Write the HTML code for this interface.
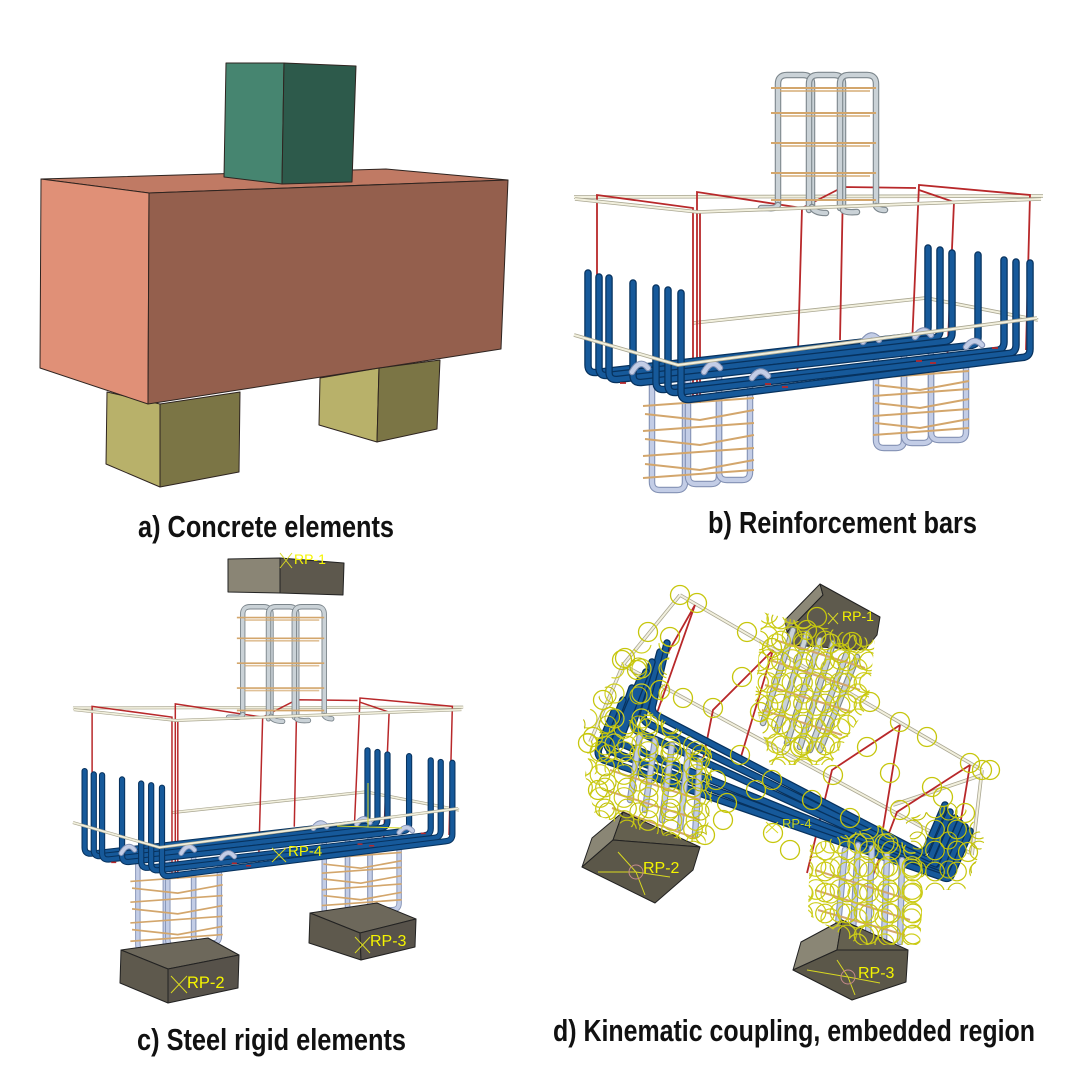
<!DOCTYPE html>
<html><head><meta charset="utf-8">
<style>
html,body{margin:0;padding:0;background:#fff;}
svg{display:block;}
.cap{font-family:"Liberation Sans Narrow","Liberation Sans",sans-serif;font-weight:bold;font-size:31px;fill:#111;}
.rp{font-family:"Liberation Sans",sans-serif;fill:#f4f400;}
.bo{fill:none;stroke:#07325e;stroke-width:7.5;stroke-linecap:round}
.bi{fill:none;stroke:#16599a;stroke-width:5;stroke-linecap:round}
.go{fill:none;stroke:#7c868c;stroke-width:6.5;stroke-linecap:round}
.gi{fill:none;stroke:#cad2d7;stroke-width:4.3;stroke-linecap:round}
.lo{fill:none;stroke:#8391b4;stroke-width:6.5;stroke-linecap:round}
.li{fill:none;stroke:#c3cde6;stroke-width:4.3;stroke-linecap:round}
.tie{fill:none;stroke:#d3a66c;stroke-width:2}
.red{fill:none;stroke:#b8282a;stroke-width:1.8}
.bgo{fill:none;stroke:#aaa792;stroke-width:3.6}
.bgi{fill:none;stroke:#f2f0de;stroke-width:2}
.yc{fill:none;stroke:#c6c60c;stroke-width:1.3}
.yl{fill:none;stroke:#d8d820;stroke-width:1}
</style></head><body>
<svg width="1080" height="1080" viewBox="0 0 1080 1080" xmlns="http://www.w3.org/2000/svg">
<defs>
 <pattern id="pA" width="22" height="21" patternUnits="userSpaceOnUse">
  <circle cx="11" cy="10.5" r="9.3" fill="none" stroke="#c6c60c" stroke-width="1.2"/>
 </pattern>
 <pattern id="pB" width="27" height="25" patternUnits="userSpaceOnUse" patternTransform="translate(7,6)">
  <circle cx="13.5" cy="12.5" r="9.5" fill="none" stroke="#d0d020" stroke-width="1.2"/>
 </pattern>
 <pattern id="pC" width="31" height="29" patternUnits="userSpaceOnUse" patternTransform="translate(3,14)">
  <circle cx="15.5" cy="14.5" r="8.5" fill="none" stroke="#bdbd08" stroke-width="1.1"/>
 </pattern>
 <pattern id="pD" width="24" height="23" patternUnits="userSpaceOnUse" patternTransform="translate(12,4)">
  <circle cx="12" cy="11.5" r="9.8" fill="none" stroke="#cccc14" stroke-width="1.2"/>
 </pattern>

 <g id="rebar">
  <path class="bgo" d="M574,197 L1043,196"/><path class="bgi" d="M574,197 L1043,196"/>
  <path class="bgo" d="M693,323 L926,298 L1038,320"/><path class="bgi" d="M693,323 L926,298 L1038,320"/>
  <path class="red" d="M597,275 V195 L693,208 V403"/>
  <path class="red" d="M697,403 V192 L802,208 L797,388"/>
  <path class="red" d="M700,403 V212"/>
  <path class="red" d="M840,340 L843,187 L916,188"/>
  <path class="red" d="M912,345 L919,185 L1030,195 L1026,350"/>
  <path class="red" d="M947,365 L954,202 L919,190"/>
  <path class="red" d="M843,187 L802,208"/>
  <g>
   <path class="go" d="M778,205 V84 Q778,75 787,75 H803 Q812,75 812,84 V207"/>
   <path class="gi" d="M778,205 V84 Q778,75 787,75 H803 Q812,75 812,84 V207"/>
   <path class="go" d="M809,210 V84 Q809,75 818,75 H834 Q843,75 843,84 V210"/>
   <path class="gi" d="M809,210 V84 Q809,75 818,75 H834 Q843,75 843,84 V210"/>
   <path class="go" d="M840,208 V84 Q840,75 849,75 H867 Q876,75 876,84 V206"/>
   <path class="gi" d="M840,208 V84 Q840,75 849,75 H867 Q876,75 876,84 V206"/>
   <path class="go" d="M778,205 Q776,209 768,208 H761 M812,207 Q814,213 826,213 M843,210 Q845,213 857,212 M876,206 Q878,210 885,210"/>
   <path class="gi" d="M778,205 Q776,209 768,208 H761 M812,207 Q814,213 826,213 M843,210 Q845,213 857,212 M876,206 Q878,210 885,210"/>
   <path class="tie" d="M771,88 H876 M771,113 H876 M771,143 H876 M771,173 H876 M771,200 H876"/>
   <path class="tie" d="M780,91 H870 M780,116 H870 M780,146 H870 M780,176 H870" stroke-width="1.2" opacity="0.7"/>
  </g>
  <g>
   <path class="lo" d="M652,375 V482 Q652,490 660,490 H677 Q685,490 685,482 V375"/>
   <path class="li" d="M652,375 V482 Q652,490 660,490 H677 Q685,490 685,482 V375"/>
   <path class="lo" d="M688,375 V476 Q688,484 696,484 H711 Q719,484 719,476 V375"/>
   <path class="li" d="M688,375 V476 Q688,484 696,484 H711 Q719,484 719,476 V375"/>
   <path class="lo" d="M719,375 V472 Q719,480 727,480 H742 Q750,480 750,472 V380"/>
   <path class="li" d="M719,375 V472 Q719,480 727,480 H742 Q750,480 750,472 V380"/>
   <path class="tie" d="M643,406 L754,398 M645,414 L700,420 L754,410 M643,431 L754,423 M645,439 L700,445 L754,435 M643,456 L754,448 M645,464 L700,470 L754,460 M643,478 L754,470"/>
  </g>
  <g>
   <path class="lo" d="M876,355 V440 Q876,448 884,448 H896 Q904,448 904,440 V355"/>
   <path class="li" d="M876,355 V440 Q876,448 884,448 H896 Q904,448 904,440 V355"/>
   <path class="lo" d="M904,355 V435 Q904,443 912,443 H923 Q931,443 931,435 V355"/>
   <path class="li" d="M904,355 V435 Q904,443 912,443 H923 Q931,443 931,435 V355"/>
   <path class="lo" d="M931,355 V432 Q931,440 939,440 H958 Q966,440 966,432 V355"/>
   <path class="li" d="M931,355 V432 Q931,440 939,440 H958 Q966,440 966,432 V355"/>
   <path class="tie" d="M873,378 L969,371 M875,385 L920,390 L969,381 M873,396 L969,389 M875,403 L920,408 L969,399 M873,416 L969,409 M875,423 L920,428 L969,419 M873,435 L969,428"/>
  </g>
  <g>
   <path class="bo" d="M588,273 V365 Q588,373 596,372.5 L920,335.5 Q928,335 928,327 V248"/><path class="bi" d="M588,273 V365 Q588,373 596,372.5 L920,335.5 Q928,335 928,327 V248"/>
   <path class="bo" d="M599,277 V368 Q599,376 607,375.5 L932,338.5 Q940,338 940,330 V250"/><path class="bi" d="M599,277 V368 Q599,376 607,375.5 L932,338.5 Q940,338 940,330 V250"/>
   <path class="bo" d="M609,278 V372 Q609,380 617,379.5 L944,341.5 Q952,341 952,333 V253"/><path class="bi" d="M609,278 V372 Q609,380 617,379.5 L944,341.5 Q952,341 952,333 V253"/>
   <path class="bo" d="M633,283 V375 Q633,383 641,382.5 L970,345.5 Q978,345 978,337 V255"/><path class="bi" d="M633,283 V375 Q633,383 641,382.5 L970,345.5 Q978,345 978,337 V255"/>
   <path class="bo" d="M656,288 V382 Q656,390 664,389.5 L996,350.5 Q1004,350 1004,342 V260"/><path class="bi" d="M656,288 V382 Q656,390 664,389.5 L996,350.5 Q1004,350 1004,342 V260"/>
   <path class="bo" d="M668,290 V385 Q668,393 676,392.5 L1008,353.5 Q1016,353 1016,345 V262"/><path class="bi" d="M668,290 V385 Q668,393 676,392.5 L1008,353.5 Q1016,353 1016,345 V262"/>
   <path class="bo" d="M681,293 V392 Q681,400 689,399.5 L1022,357.5 Q1030,357 1030,349 V263"/><path class="bi" d="M681,293 V392 Q681,400 689,399.5 L1022,357.5 Q1030,357 1030,349 V263"/>
  </g>
  <path class="lo" d="M632,372 Q640,358 648,368 M704,372 Q712,358 720,368 M752,378 Q760,366 768,376 M863,342 Q871,330 879,340 M915,337 Q923,325 931,335 M966,347 Q974,336 982,345"/>
  <path class="li" d="M632,372 Q640,358 648,368 M704,372 Q712,358 720,368 M752,378 Q760,366 768,376 M863,342 Q871,330 879,340 M915,337 Q923,325 931,335 M966,347 Q974,336 982,345"/>
  <path class="red" stroke-width="2.2" d="M620,383 h6 M765,384 h6 M782,387 h6 M916,361 h6 M930,363 h6 M992,348 h6"/>
  <path class="bgo" d="M575,199 L698,212 L1041,199"/><path class="bgi" d="M575,199 L698,212 L1041,199"/>
  <path class="bgo" d="M574,335 L678,365 L1037,318"/><path class="bgi" d="M574,335 L678,365 L1037,318"/>
 </g>
</defs>

<rect width="1080" height="1080" fill="#fff"/>

<!-- Panel a -->
<g stroke="#2e2420" stroke-width="1" stroke-linejoin="round">
 <polygon points="107,392 160,404 160,487 106,464" fill="#b8b16a"/>
 <polygon points="160,404 240,392 239,472 160,487" fill="#7b7545"/>
 <polygon points="320,378 379,368 377,442 319,425" fill="#b8b16a"/>
 <polygon points="379,368 440,360 437,429 377,442" fill="#7b7545"/>
 <polygon points="41,179 386,169 508,180 149,193" fill="#c07a64"/>
 <polygon points="41,179 149,193 148,404 40,368" fill="#e09077"/>
 <polygon points="149,193 508,180 501,349 148,404" fill="#945f4d"/>
 <polygon points="226,63 284,63 282,184 224,177" fill="#468570"/>
 <polygon points="284,63 356,66 352,182 282,184" fill="#2d5a4b"/>
</g>
<text class="cap" x="138" y="537" textLength="256" lengthAdjust="spacingAndGlyphs">a) Concrete elements</text>

<!-- Panel b -->
<use href="#rebar"/>
<text class="cap" x="708" y="533" textLength="269" lengthAdjust="spacingAndGlyphs">b) Reinforcement bars</text>

<!-- Panel c -->
<g stroke="#222" stroke-width="1" stroke-linejoin="round">
 <polygon points="228,559 280,558 280,593 228,592" fill="#8a8575"/>
 <polygon points="280,558 344,563 343,595 280,593" fill="#5d584d"/>
</g>
<use href="#rebar" transform="matrix(0.832,0,0,0.83,-404.6,544.5)"/>
<g stroke="#222" stroke-width="1" stroke-linejoin="round">
 <polygon points="121,950 208,938 239,955 168,969" fill="#6d685b"/>
 <polygon points="121,950 168,969 168,1003 120,983" fill="#5e594d"/>
 <polygon points="168,969 239,955 238,988 168,1003" fill="#57524a"/>
 <polygon points="310,913 377,903 416,919 360,933" fill="#6d685b"/>
 <polygon points="310,913 360,933 361,960 309,943" fill="#5e594d"/>
 <polygon points="360,933 416,919 415,947 361,960" fill="#57524a"/>
</g>
<g class="yl" stroke="#e0e020">
 <path d="M280,553 L292,568 M292,553 L280,568"/>
 <path d="M171,976 L187,993 M187,976 L171,993"/>
 <path d="M355,937 L370,953 M370,937 L355,953"/>
 <path d="M272,848 L286,862 M286,848 L272,862"/>
 <path d="M368,827 V783 M368,827 L402,828 M368,827 L337,826"/>
</g>
<text class="rp" x="294" y="564" font-size="14">RP-1</text>
<text class="rp" x="187" y="988" font-size="16.5">RP-2</text>
<text class="rp" x="370" y="946" font-size="16">RP-3</text>
<text class="rp" x="288" y="856" font-size="15">RP-4</text>
<text class="cap" x="137" y="1050" textLength="269" lengthAdjust="spacingAndGlyphs">c) Steel rigid elements</text>

<!-- Panel d -->
<g>
 <path class="bgo" d="M680,595 L982,770 M680,595 L623,665 L590,742 M623,665 L970,853 M982,770 L972,855 M893,805 L982,775"/>
 <path class="bgi" d="M680,595 L982,770 M680,595 L623,665 L590,742 M623,665 L970,853 M982,770 L972,855 M893,805 L982,775"/>
</g>
<path class="red" d="M695,605 L607,760 M695,605 L657,713 M773,650 L713,710 L700,775 M773,650 L740,760 M900,725 L832,770 L807,873 M900,725 L882,835 M970,765 L897,812 L868,888 M970,765 L953,868"/>
<g stroke="#222" stroke-width="1" stroke-linejoin="round">
 <polygon points="820,584 785,620 787,632 823,595" fill="#8c8877"/>
 <polygon points="823,595 820,584 880,617 877,635 865,650 790,645 787,632" fill="#5e5a4d"/>
</g>
<path class="go" d="M793,630 L763,723 M807,633 L777,730 M820,640 L787,743 M833,643 L800,747 M847,653 L810,750 M857,657 L820,750"/>
<path class="gi" d="M793,630 L763,723 M807,633 L777,730 M820,640 L787,743 M833,643 L800,747 M847,653 L810,750 M857,657 L820,750"/>
<path class="tie" stroke-width="1.5" d="M770,660 L860,690 M765,685 L852,712 M762,710 L842,735 M775,640 L865,668"/>
<g>
 <path class="bo" d="M667,643 L653,704 Q650,712 658,716 L917,851 Q925,855 927,847 L945,805"/><path class="bi" d="M667,643 L653,704 Q650,712 658,716 L917,851 Q925,855 927,847 L945,805"/>
 <path class="bo" d="M660,652 L644,712 Q641,720 649,724 L922,858 Q930,862 932,854 L950,812"/><path class="bi" d="M660,652 L644,712 Q641,720 649,724 L922,858 Q930,862 932,854 L950,812"/>
 <path class="bo" d="M652,662 L634,720 Q631,728 639,732 L927,864 Q935,868 937,860 L955,818"/><path class="bi" d="M652,662 L634,720 Q631,728 639,732 L927,864 Q935,868 937,860 L955,818"/>
 <path class="bo" d="M632,688 L617,732 Q614,740 622,744 L932,869 Q940,873 942,865 L960,823"/><path class="bi" d="M632,688 L617,732 Q614,740 622,744 L932,869 Q940,873 942,865 L960,823"/>
 <path class="bo" d="M623,700 L608,740 Q605,748 613,752 L937,873 Q945,877 947,869 L965,827"/><path class="bi" d="M623,700 L608,740 Q605,748 613,752 L937,873 Q945,877 947,869 L965,827"/>
 <path class="bo" d="M614,712 L599,748 Q596,756 604,760 L942,877 Q950,881 952,873 L970,831"/><path class="bi" d="M614,712 L599,748 Q596,756 604,760 L942,877 Q950,881 952,873 L970,831"/>
 <path class="bo" d="M640,680 L610,752 M646,672 L618,745"/><path class="bi" d="M640,680 L610,752 M646,672 L618,745"/>
</g>
<path class="lo" d="M640,735 L630,800 M655,740 L645,810 M672,745 L662,820 M688,752 L680,828 M700,760 L695,835 M845,850 L838,925 M858,845 L853,930 M872,848 L868,935 M887,855 L884,940 M902,860 L900,942"/>
<path class="li" d="M640,735 L630,800 M655,740 L645,810 M672,745 L662,820 M688,752 L680,828 M700,760 L695,835 M845,850 L838,925 M858,845 L853,930 M872,848 L868,935 M887,855 L884,940 M902,860 L900,942"/>
<path class="tie" stroke-width="1.5" d="M610,770 L700,800 M605,790 L700,820 M612,808 L695,838 M815,870 L910,900 M815,890 L910,920 M818,910 L905,935"/>
<g stroke="#222" stroke-width="1" stroke-linejoin="round">
 <polygon points="623,812 613,840 582,867 592,838" fill="#8a8675"/>
 <polygon points="623,812 700,847 613,840" fill="#64604f"/>
 <polygon points="613,840 700,847 693,870 655,903 582,867" fill="#5b5749"/>
 <polygon points="842,920 801,942 793,970 837,950" fill="#8a8675"/>
 <polygon points="842,920 908,950 837,950" fill="#64604f"/>
 <polygon points="837,950 908,950 906,982 852,1000 793,970" fill="#5b5749"/>
</g>
<g>
 <polygon points="762,612 875,640 868,705 830,765 770,765 755,700" fill="url(#pA)"/>
 <polygon points="762,612 875,640 868,705 830,765 770,765 755,700" fill="url(#pB)"/>
 <polygon points="762,612 875,640 868,705 830,765 770,765 755,700" fill="url(#pD)"/>
 <polygon points="592,735 650,712 712,750 712,800 705,845 640,830 595,815 585,775" fill="url(#pA)"/>
 <polygon points="592,735 650,712 712,750 712,800 705,845 640,830 595,815 585,775" fill="url(#pC)"/>
 <polygon points="592,735 650,712 712,750 712,800 705,845 640,830 595,815 585,775" fill="url(#pD)"/>
 <polygon points="810,845 880,825 925,860 920,945 860,945 808,915" fill="url(#pA)"/>
 <polygon points="810,845 880,825 925,860 920,945 860,945 808,915" fill="url(#pB)"/>
 <polygon points="810,845 880,825 925,860 920,945 860,945 808,915" fill="url(#pD)"/>
 <polygon points="583,720 630,650 672,640 660,720 620,770 590,775" fill="url(#pB)"/>
 <polygon points="583,720 630,650 672,640 660,720 620,770 590,775" fill="url(#pC)"/>
 <polygon points="905,820 960,800 985,840 965,890 925,890" fill="url(#pC)"/>
 <polygon points="905,820 960,800 985,840 965,890 925,890" fill="url(#pA)"/>
</g>
<g class="yc">
 <circle cx="680" cy="595" r="9.5"/><circle cx="697" cy="603" r="9.5"/><circle cx="648" cy="632" r="9.5"/>
 <circle cx="622" cy="660" r="9.5"/><circle cx="747" cy="632" r="9.5"/><circle cx="772" cy="648" r="9.5"/>
 <circle cx="742" cy="677" r="9.5"/><circle cx="683" cy="698" r="9.5"/><circle cx="713" cy="708" r="9.5"/>
 <circle cx="740" cy="755" r="9.5"/><circle cx="870" cy="702" r="9.5"/><circle cx="900" cy="722" r="9.5"/>
 <circle cx="927" cy="737" r="9.5"/><circle cx="867" cy="747" r="9.5"/><circle cx="970" cy="763" r="9.5"/>
 <circle cx="982" cy="770" r="9.5"/><circle cx="833" cy="775" r="9.5"/><circle cx="890" cy="773" r="9.5"/>
 <circle cx="932" cy="787" r="9.5"/><circle cx="943" cy="797" r="9.5"/><circle cx="900" cy="810" r="9.5"/>
 <circle cx="965" cy="813" r="9.5"/><circle cx="968" cy="852" r="9.5"/><circle cx="800" cy="747" r="9.5"/>
 <circle cx="772" cy="780" r="9.5"/><circle cx="727" cy="803" r="9.5"/><circle cx="723" cy="820" r="9.5"/>
 <circle cx="773" cy="833" r="9.5"/><circle cx="790" cy="850" r="9.5"/><circle cx="852" cy="642" r="9.5"/>
 <circle cx="840" cy="653" r="9.5"/><circle cx="817" cy="617" r="9.5"/><circle cx="807" cy="630" r="9.5"/>
 <circle cx="593" cy="737" r="9.5"/><circle cx="588" cy="743" r="9.5"/><circle cx="625" cy="658" r="9.5"/>
 <circle cx="637" cy="670" r="9.5"/><circle cx="610" cy="717" r="9.5"/><circle cx="670" cy="637" r="9.5"/>
 <circle cx="756" cy="790" r="9.5"/><circle cx="700" cy="760" r="9.5"/><circle cx="990" cy="770" r="9.5"/>
 <circle cx="812" cy="800" r="9.5"/><circle cx="850" cy="818" r="9.5"/><circle cx="760" cy="712" r="9.5"/>
 <circle cx="716" cy="780" r="9.5"/><circle cx="705" cy="835" r="9.5"/><circle cx="603" cy="700" r="9.5"/>
 <circle cx="660" cy="690" r="9.5"/><circle cx="598" cy="790" r="9.5"/>
</g>
<g class="yl" stroke="#d6d61c">
 <path d="M636,872 L598,872 M636,872 L670,877 M636,872 L618,852 M636,872 L645,895"/>
 <path d="M848,977 L807,970 M848,977 L880,983 M848,977 L837,960 M848,977 L855,995"/>
 <path d="M828,613 L838,624 M838,613 L828,624"/>
 <path d="M766,822 L778,833 M778,822 L766,833"/>
</g>
<circle cx="636" cy="872" r="7" fill="none" stroke="#c48a8a" stroke-width="1"/>
<circle cx="848" cy="977" r="7" fill="none" stroke="#c48a8a" stroke-width="1"/>
<text class="rp" x="842" y="621" font-size="14">RP-1</text>
<text class="rp" x="643" y="873" font-size="16">RP-2</text>
<text class="rp" x="858" y="978" font-size="16">RP-3</text>
<text class="rp" x="782" y="828" font-size="13" opacity="0.8">RP-4</text>
<text class="cap" x="553" y="1041" textLength="482" lengthAdjust="spacingAndGlyphs">d) Kinematic coupling, embedded region</text>
</svg>
</body></html>
